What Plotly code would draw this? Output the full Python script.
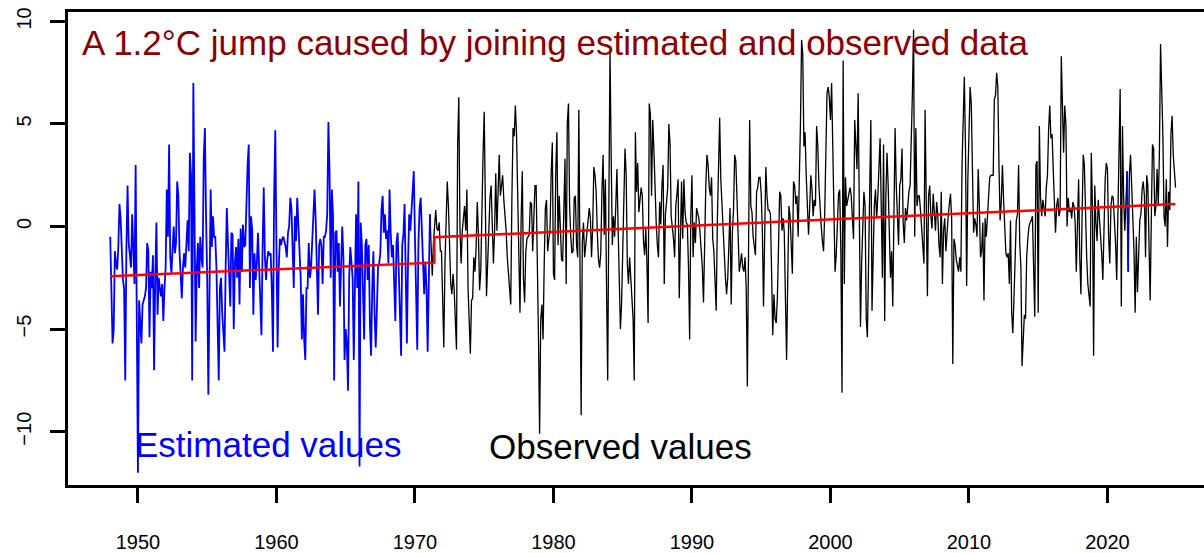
import plotly.graph_objects as go

START_YEAR = 1948  # monthly series starting January 1948

# Monthly values (deg C), in consecutive chunks
vals_1948 = [-0.5, -3.0, -5.7, -5.0, -1.2, -1.8, -2.1, -1.0, 1.1, 0.4,
             -1.5, -2.6, -3.0, -7.5, -1.0, 2.0, -0.8, -1.5, -2.0, 0.6,
             -1.8, -2.8, 3.0, -4.0, -12.0, -3.6, -4.5, -5.7, -3.8, -3.6,
             -3.4, -3.0, -0.8, -1.2, -5.4, -2.2, -3.0, -1.4, -7.0, -2.5,
             0.2, -4.3, -2.5, -3.0, -3.4, -2.8, -4.6, -3.0, -2.0, 1.8,
             -0.5, 4.0, -1.5, -2.3, -1.0, 0.0, -1.3, -0.8, 2.2, 1.5,
             -1.2, -2.3, -3.5, -2.0, -1.3, -2.0, -0.8, 0.3, -1.2, 3.6,
             2.5, -7.5, 7.0, -2.0, -5.6, -2.0, -0.8, -3.0, -0.5, -1.5,
             -2.0, 3.3, 4.8, 0.5, -2.5, -8.2, -1.5, 1.8, -1.0, 0.5,
             -0.5]
vals_1955 = [-0.5, -2.0, -5.0, -7.5, -3.0, -2.5, -4.2, -5.0, -6.1, -2.0,
             0.9, -0.8, -2.8, -3.9, -0.3, -0.4, -5.0, -1.8, -1.0, -2.5,
             -0.6, -3.8, -0.1, -2.2, 0.1, -1.0, -0.9, 1.3, 3.0, 4.0,
             -3.0, 0.5, -0.2, -4.3, -1.3, -2.6, -1.8, -0.3, -1.9, -3.5,
             -5.3, -1.0, 1.9, -1.5, -2.6, -1.6, -1.2, -1.4, -1.3, -3.1,
             -6.1, 1.5, 4.7, -0.9, -5.9, -2.0, -0.6, -0.9, -0.6, -0.5,
             -0.8, -1.0, -1.5, -0.3, 0.0, 1.4, 0.9, -1.5, -3.0, 0.5,
             -0.7, 1.4, 0.0, -1.0, -2.5, -5.5, -3.3, -5.5, -6.5, -3.0,
             -3.0, -0.8, -2.5, -2.0, -0.7, 0.5, 1.8, 0.3, -2.5, -4.3,
             -0.9, -0.6]
vals_1963 = [-1.0, -2.8, -0.5, -0.5, -0.2, 0.6, 5.1, 2.7, -2.5, 1.8,
             0.6, -7.5, -0.3, -0.2, -2.2, -0.8, -3.9, -1.5, 0.0, -1.5,
             -6.5, -5.0, -5.7, -8.0, -2.5, -1.0, -1.6, -2.5, -6.5, -3.5,
             0.6, -3.0, 2.2, -11.7, 0.2, -0.9, -4.0, -5.5, -0.9, -0.6,
             -2.6, -0.9, -4.8, -6.3, -3.0, -1.2, -4.2, -5.9, -4.1, -2.0,
             -1.8, -1.3, 0.8, 1.5, -0.3, 0.6, -0.6, -0.2, -1.8, 1.8,
             -0.3, -1.5, -0.9, -3.1, -4.6, -0.8, -0.3, -2.2, -4.5, -6.3,
             -0.9, -0.4, 1.1, -2.5, -5.7, -1.8, 0.6, -0.2, 1.0, 1.8,
             2.7, -0.5, -3.0, -6.0, -0.9, 0.9, 1.4, -0.5, -1.5, -3.3,
             -1.7, -3.0, -6.1, -1.5]
vals_1971 = [0.6, -1.5, -2.4, -0.8, 0.1, 0.8, -0.1, -0.2, 0.2, -1.2,
             -1.2, -3.2, -5.9, -1.8, 0.4, 2.2, 1.0, -1.2, -2.8, -3.3,
             -2.3, -3.1, -5.0, -6.0, 4.0, 6.3, -0.1, -1.8, -0.2, 0.6,
             1.0, -0.2, 1.8, -3.0, -4.4, -6.2, -3.6, -3.5, -1.5, -2.2,
             -1.0, 1.2, -0.4, -3.1, -2.2, 1.3, 3.5, 5.6, 0.8, -3.4,
             -1.8, 0.1, 1.4, 2.0, -0.5, -1.8, -0.2, 2.6, -0.2, 2.5,
             3.5, 1.5, 2.0, 2.5, 1.3, 0.7, -0.2, -1.5, -2.3, -3.0,
             -3.8, 1.4, 4.8, 4.4, 5.9, 4.5, 1.0, -1.5, -4.2, 0.4,
             2.7, -2.5, -3.7, -1.3, -0.6, -0.5, -0.4, 1.2, 1.1, -1.2,
             0.2, 2.0]
vals_1978 = [2.0, -1.0, -5.3, -10.1, -4.5, -3.8, -5.5, -1.8, 0.9, 1.3,
             -1.2, -0.6, -0.2, 2.5, 4.1, -2.3, -2.6, 2.7, 4.6, -0.9,
             1.5, -0.1, -1.6, -1.7, 0.8, 3.3, -2.8, 5.0, 6.0, 1.0,
             -0.5, -1.3, -1.2, 1.4, 1.5, -0.9, -1.5, 5.7, -2.0, -9.2,
             -0.8, 0.2, -1.5, -0.9, -0.6, 0.2, 0.9, 0.4, -1.5, 0.0,
             2.9, 2.5, 1.7, -0.3, -1.6, -2.0, -1.3, 1.7, 3.5, -0.4,
             2.3, -3.0, -7.5, 1.0, 8.6, 3.5, -0.9, 0.5, -0.5, 1.0,
             2.8, 0.0, -2.2, -5.0, -3.8, -0.9, 2.5, 3.8, 2.5, -1.8,
             -2.8, -1.5, -2.5, -3.5, -4.5, -7.5, 4.6, 1.7, 3.1, 0.7,
             1.2, 1.9, 1.5]
vals_1986 = [-0.7, -1.4, -0.1, -1.8, -4.7, 6.0, 5.5, 1.5, 5.2, 3.8,
             1.7, 0.2, -0.9, -1.5, 1.2, 0.1, 2.0, 3.0, -2.8, 0.6,
             1.2, 1.9, 5.0, 4.0, 0.5, 0.0, -0.6, -1.5, 1.0, 1.6,
             2.3, -3.5, -0.2, 2.2, -0.6, 2.3, 0.7, 0.2, 0.1, -2.0,
             -5.5, 0.5, 2.5, -1.5, 0.2, -0.8, 0.9, 0.7, 0.4, -0.3,
             -1.0, -2.0, -3.7, -0.2, 2.0, 3.5, 3.0, 1.9, 1.5, 2.4,
             -0.6, -1.2, -2.5, -4.1, 0.3, 3.2, 5.3, 2.3, 1.0, -0.4,
             -1.0, -2.5, -3.3, -2.5, -0.9, 0.9, -3.8, -0.3, 0.8, 3.5,
             3.2, 1.2, -0.5, -2.2, -1.8, -1.3, -2.0, -2.2, -1.5, -3.0,
             -7.8, -2.0]
vals_1994 = [5.2, 1.0, 0.7, -0.5, -0.9, -1.4, 1.7, 1.9, 2.4, 2.4,
             1.6, -0.2, -3.9, -0.5, 2.9, 1.5, 0.8, 0.8, 0.6, -2.2,
             -5.3, -3.3, -4.5, -4.7, -3.5, -1.0, 1.7, 1.5, -0.2, 0.4,
             -0.3, -3.5, -6.5, -2.5, 1.0, 0.5, -1.5, -2.3, 2.2, 2.0,
             1.1, 1.5, -0.5, 1.8, 5.0, 9.1, 8.4, 3.9, 4.6, 2.5,
             0.6, -0.4, 0.9, 2.5, 1.8, 0.5, 1.3, 1.0, 4.9, 4.0,
             2.0, 0.8, 0.0, -0.7, -1.2, 0.6, 3.2, 6.5, 6.8, 6.3,
             5.2, 7.0, 3.9, 1.0, -2.2, -1.4, 0.7, 1.6, 1.8, -1.2,
             -8.1, 8.1, -2.8, 2.4, 1.0, 1.4, 1.6, 1.9, 1.5, 0.4,
             -0.6]
vals_2001 = [5.2, 3.6, 2.8, 6.5, -1.0, -4.9, -1.8, 0.1, 1.7, 1.0,
             -4.5, -5.4, -0.5, 1.7, 5.2, -4.1, -1.5, 1.0, 1.8, 0.4,
             1.4, 2.5, 4.3, 1.0, -2.5, 4.0, -4.6, 1.5, 3.6, 2.0,
             -1.2, -2.5, -1.2, -3.9, 0.5, 4.8, 2.0, 0.5, -0.9, 2.0,
             2.3, 3.8, 0.2, -0.8, 0.9, 0.3, 1.1, 1.7, 2.0, 3.9,
             6.5, 9.6, -0.5, 4.8, 1.0, 1.5, 1.5, 0.8, 0.0, -0.5,
             -1.8, 5.7, 0.1, -3.4, 1.5, 2.0, 0.5, -0.1, 1.6, 0.9,
             -0.2, 1.2, 0.6, -0.9, -1.5, 1.7, -2.8, -0.2, 0.4, -1.2,
             -0.2, 0.5, 1.1, 1.6, 0.4, -6.7, -0.6, -0.9, -1.6, -1.9,
             -2.2, -1.5, -2.2, 3.0]
vals_2009 = [5.0, 7.3, 3.8, -2.9, 2.2, 5.5, 6.8, 6.0, 3.5, -0.3,
             0.4, 0.1, -0.5, 2.8, 1.0, -1.5, -1.2, 0.2, -3.6, 0.4,
             -0.5, 0.6, 1.5, 2.4, 2.5, 2.5, 2.5, 6.2, 6.4, 7.5,
             6.8, 3.0, 0.3, 1.2, 3.0, 1.3, 0.2, -1.3, -1.5, -1.3,
             -2.8, 0.3, -4.2, -5.2, -3.5, -1.8, 0.3, 0.6, 3.0, -0.8,
             -2.0, -6.8, -5.5, -4.3, -4.5, -1.5, -0.6, 0.0, 0.2, 0.3,
             0.5, -1.5, -4.4, 3.0, 3.2, -4.2, 4.9, 1.4, 0.5, 1.3,
             0.8, 0.5, 1.9, 2.5, 4.7, 5.9, 4.3, 4.5, 2.8, 1.0,
             -0.3, 1.0, 1.4, 0.5, 0.8, 8.3, 5.6, 3.6, 5.9, 5.0,
             0.0, 1.4, 0.7]
vals_2017 = [0.9, 0.4, 1.2, 1.0, 0.2, -2.2, 1.0, 2.3, -1.5, -3.3,
             0.5, 3.5, 3.0, 0.0, -1.5, -2.8, -3.4, -3.9, 3.6, 1.0,
             -6.3, 2.0, 0.2, -0.7, 1.3, 0.5, -0.1, -1.3, -2.6, 0.4,
             2.3, 3.1, 2.8, -0.5, -1.8, 1.0, 1.5, 1.4, 0.5, -0.8,
             -2.6, 0.5, 5.2, 6.7, -3.9, 4.9, 1.5, -0.2, 1.2, 2.7,
             -2.2, 2.5, 3.5, 2.2, 0.4, -1.2, -4.2, -0.5, -3.2, -0.8,
             0.3, 0.6, 1.8, 2.2, 1.5, -1.5, 2.5, 2.0, -0.8, -3.6,
             0.4, 4.0, 3.8, 0.5, 1.0, 2.8, 1.0, 3.6, 8.9, 6.5,
             4.5, 0.5, 0.0, 2.3, -1.0, 1.7, 0.8, 4.5, 5.4, 3.5,
             2.5, 1.9]

values = (vals_1948 + vals_1955 + vals_1963 + vals_1971 + vals_1978
          + vals_1986 + vals_1994 + vals_2001 + vals_2009 + vals_2017)
years = [START_YEAR + i / 12 for i in range(len(values))]

# Which months are estimated (month-index ranges, inclusive)
estimated_ranges = [(0, 277), (881, 882)]
observed_range = (277, len(values) - 1)

# Fitted trend lines (year, value): estimated part, then observed part
trend_years = [1948.0, 1971.4, 1971.4, 2024.9]
trend_vals = [-2.42, -1.76, -0.52, 1.10]

x_ticks = [1950, 1960, 1970, 1980, 1990, 2000, 2010, 2020]
y_ticks = [-10, -5, 0, 5, 10]

title_text = "A 1.2°C jump caused by joining estimated and observed data"
est_label = "Estimated values"
obs_label = "Observed values"

fig = go.Figure()

o0, o1 = observed_range
fig.add_trace(go.Scatter(x=years[o0:o1 + 1], y=values[o0:o1 + 1], mode="lines",
                         line=dict(color="black", width=1.3), hoverinfo="skip"))
for a, b in estimated_ranges:
    fig.add_trace(go.Scatter(x=years[a:b + 1], y=values[a:b + 1], mode="lines",
                             line=dict(color="#0000FF", width=1.8), hoverinfo="skip"))
fig.add_trace(go.Scatter(x=trend_years, y=trend_vals, mode="lines",
                         line=dict(color="#FF0000", width=2.5), hoverinfo="skip"))

ann_font = "Liberation Sans, Arial, sans-serif"
fig.add_annotation(x=1945.81, y=8.97, xref="x", yref="y", text=title_text,
                   showarrow=False, xanchor="left", yanchor="middle",
                   font=dict(family=ann_font, size=35, color="#8B0000"))
fig.add_annotation(x=1949.64, y=-10.63, xref="x", yref="y", text=est_label,
                   showarrow=False, xanchor="left", yanchor="middle",
                   font=dict(family=ann_font, size=35, color="#0000FF"))
fig.add_annotation(x=1975.2, y=-10.70, xref="x", yref="y", text=obs_label,
                   showarrow=False, xanchor="left", yanchor="middle",
                   font=dict(family=ann_font, size=35, color="black"))

tick_font = dict(family="Liberation Sans, Arial, sans-serif", size=20, color="black")
fig.update_layout(
    width=1204, height=553,
    margin=dict(l=68, r=0, t=12, b=60),
    paper_bgcolor="white", plot_bgcolor="white",
    showlegend=False,
    xaxis=dict(range=[1944.95, 2026.97], tickvals=x_ticks, ticks="outside",
               ticklen=15, tickwidth=3, tickcolor="black", showline=True,
               linewidth=3, linecolor="black", mirror=True, showgrid=False,
               zeroline=False, tickfont=tick_font, ticklabelstandoff=22),
    yaxis=dict(range=[-12.6, 10.46], tickvals=y_ticks, ticks="outside",
               ticklen=15, tickwidth=3, tickcolor="black", showline=True,
               linewidth=3, linecolor="black", mirror=False, showgrid=False,
               zeroline=False, tickfont=tick_font, tickangle=-90,
               ticklabelstandoff=11),
)

fig.write_html("out.html")
